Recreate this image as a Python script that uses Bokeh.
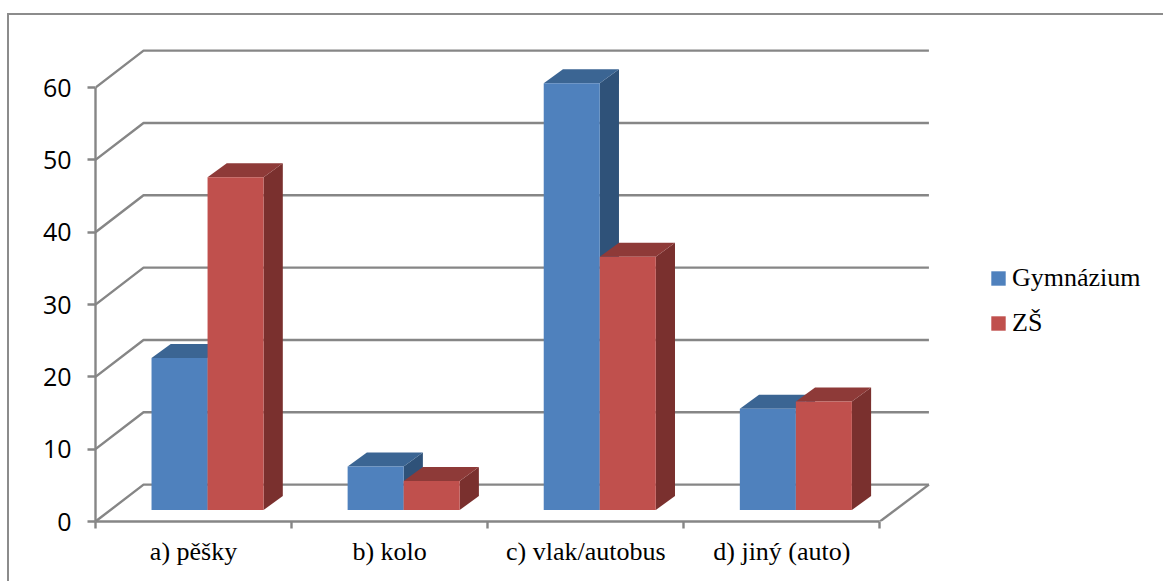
from bokeh.embed import file_html
from bokeh.resources import INLINE
from bokeh.models import FixedTicker, InlineStyleSheet, Legend, LegendItem, Range1d
from bokeh.plotting import figure

# Survey answers per category
categories = ["a) pěšky", "b) kolo", "c) vlak/autobus", "d) jiný (auto)"]
gymnazium = [21, 6, 59, 14]
zs = [46, 4, 35, 15]
value_ticks = [0, 10, 20, 30, 40, 50, 60]

# Oblique projection of the fake 3D box, in data units
WALL_DX, WALL_DY = 0.245, 5.1
WALL_RIGHT = 4.25
BAR_DX, BAR_DY = 0.098, 1.94
BAR_X0, BAR_Y0 = 2 / 7, 1.6
BAR_W = 2 / 7

GRID = "#868686"
SERIES = [
    ("Gymnázium", gymnazium, 0, "#4F81BD", "#3B6593", "#2F5279"),
    ("ZŠ", zs, 1, "#C0504D", "#8E3A38", "#7A302E"),
]

PX_X = 196.1
PX_Y = 7.233
FRAME_W, FRAME_H = 1163 - 95, 521

# Outer chart border: only its left and top edges fall inside the page
chart_border = InlineStyleSheet(css="""
:host::after {
  content: ""; position: absolute; left: 7px; top: 13px; right: 0; bottom: 0;
  border-left: 2px solid #8C8C8C; border-top: 2px solid #8C8C8C;
  pointer-events: none; z-index: 5;
}
""")

p = figure(
    width=1163, height=581, output_backend="svg", toolbar_location=None,
    x_range=Range1d(0, FRAME_W / PX_X), y_range=Range1d(0, FRAME_H / PX_Y),
    min_border_left=95, min_border_right=0, min_border_top=0, min_border_bottom=60,
    background_fill_color="white", border_fill_color="white", outline_line_color=None,
    stylesheets=[chart_border],
)
p.grid.visible = False

# Side wall and back wall gridlines
for v in value_ticks:
    p.line([0, WALL_DX, WALL_RIGHT], [v, v + WALL_DY, v + WALL_DY], line_color=GRID, line_width=2.4)
# Floor edge on the right
p.line([4, WALL_RIGHT], [0, WALL_DY], line_color=GRID, line_width=2.4)

# Bars: right side, then top, then front, so that later bars cover earlier sides
legend_items = []
for name, values, slot, front, top, side in SERIES:
    xs_front, ys_front, xs_top, ys_top, xs_side, ys_side = [], [], [], [], [], []
    for i, v in enumerate(values):
        x0 = i + BAR_X0 + slot * BAR_W
        x1 = x0 + BAR_W
        y0, y1 = BAR_Y0, BAR_Y0 + v
        xs_front.append([x0, x1, x1, x0])
        ys_front.append([y0, y0, y1, y1])
        xs_top.append([x0, x1, x1 + BAR_DX, x0 + BAR_DX])
        ys_top.append([y1, y1, y1 + BAR_DY, y1 + BAR_DY])
        xs_side.append([x1, x1 + BAR_DX, x1 + BAR_DX, x1])
        ys_side.append([y0, y0 + BAR_DY, y1 + BAR_DY, y1])
    p.patches(xs_side, ys_side, fill_color=side, line_color=None)
    p.patches(xs_top, ys_top, fill_color=top, line_color=None)
    r = p.patches(xs_front, ys_front, fill_color=front, line_color=None)
    legend_items.append(LegendItem(label=name, renderers=[r]))

# Value axis
ya = p.yaxis[0]
ya.ticker = FixedTicker(ticks=value_ticks)
ya.bounds = (0, 60)
ya.axis_line_color = GRID
ya.axis_line_width = 2.4
ya.major_tick_line_color = GRID
ya.major_tick_line_width = 2.4
ya.major_tick_in = 0
ya.major_tick_out = 8
ya.minor_tick_line_color = None
ya.major_label_text_font = "Open Sans"
ya.major_label_text_font_size = "25px"
ya.major_label_text_color = "black"
ya.major_label_standoff = 16

# Category axis: labels at the centres, tick marks on the category boundaries
xa = p.xaxis[0]
centres = [i + 0.5 for i in range(len(categories))]
xa.ticker = FixedTicker(ticks=centres, minor_ticks=list(range(len(categories) + 1)))
xa.major_label_overrides = {c: t for c, t in zip(centres, categories)}
xa.bounds = (0, 4)
xa.axis_line_color = GRID
xa.axis_line_width = 2.4
xa.major_tick_line_color = None
xa.minor_tick_line_color = GRID
xa.minor_tick_line_width = 2.4
xa.minor_tick_in = 0
xa.minor_tick_out = 7
xa.major_label_text_font = "Liberation Serif"
xa.major_label_text_font_size = "26px"
xa.major_label_text_color = "black"
xa.major_label_standoff = 8

legend = Legend(
    items=legend_items, location=(894, 183), orientation="vertical",
    border_line_color=None, background_fill_alpha=0, padding=0, margin=0,
    glyph_width=18, glyph_height=18, label_standoff=5, spacing=14, label_height=31,
    label_text_font="Liberation Serif", label_text_font_size="26px", label_text_color="black",
)
p.add_layout(legend)

open("out.html", "w").write(file_html(p, INLINE))
